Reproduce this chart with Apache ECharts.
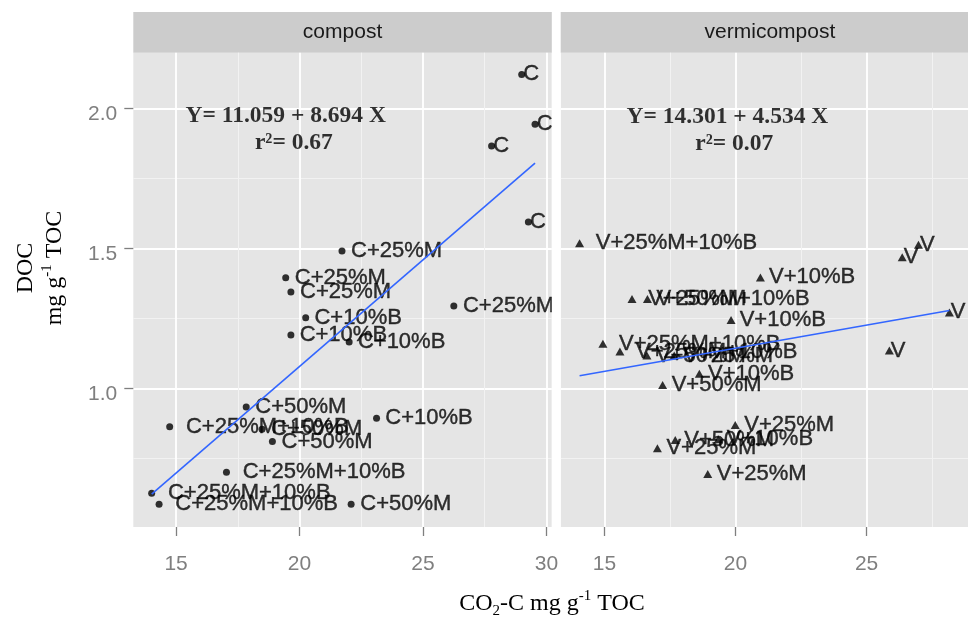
<!DOCTYPE html>
<html><head><meta charset="utf-8">
<script src="https://cdn.jsdelivr.net/npm/echarts@6/dist/echarts.min.js"></script>
<style>html,body{margin:0;padding:0;background:#fff}#c{width:968px;height:617px}</style>
</head><body><div id="c"></div>
<script>
// ---------- data ----------
const panelNames = ['compost', 'vermicompost'];

const compostX = [29.00, 29.54, 27.78, 29.27, 21.72, 19.44, 19.65, 26.25, 20.25, 19.65, 22.01, 23.12, 17.84, 18.48, 18.90, 22.09, 14.74, 17.04, 14.01, 14.31];
const compostY = [2.121, 1.943, 1.865, 1.594, 1.490, 1.395, 1.344, 1.294, 1.252, 1.190, 1.165, 0.893, 0.933, 0.854, 0.810, 0.586, 0.863, 0.700, 0.625, 0.586];
const compostLabels = ['C', 'C', 'C', 'C', 'C+25%M', 'C+25%M', 'C+25%M', 'C+25%M', 'C+10%B', 'C+10%B', 'C+10%B', 'C+10%B', 'C+50%M', 'C+50%M', 'C+50%M', 'C+50%M', 'C+25%M+10%B', 'C+25%M+10%B', 'C+25%M+10%B', 'C+25%M+10%B'];

const vermiX = [26.98, 26.36, 28.16, 25.87, 20.95, 19.83, 18.62, 19.34, 14.05, 16.05, 14.94, 15.59, 16.64, 17.22, 17.70, 16.62, 19.99, 17.02, 18.94, 17.66];
const vermiY = [1.513, 1.468, 1.271, 1.135, 1.396, 1.244, 1.052, 0.818, 1.518, 1.319, 1.159, 1.131, 1.319, 1.012, 0.815, 1.117, 0.869, 0.786, 0.694, 1.117];
const vermiLabels = ['V', 'V', 'V', 'V', 'V+10%B', 'V+10%B', 'V+10%B', 'V+10%B', 'V+25%M+10%B', 'V+25%M+10%B', 'V+25%M+10%B', 'V+25%M+10%B', 'V+50%M', 'V+50%M', 'V+50%M', 'V+50%M', 'V+25%M', 'V+25%M', 'V+25%M', 'V+25%M'];

const compostFitX = [14.01, 29.54];
const compostFitY = [0.622, 1.804];
const vermiFitX = [14.05, 28.16];
const vermiFitY = [1.045, 1.278];

const compostEqX = [19.44, 19.77];
const compostEqY = [1.974, 1.876];
const compostEqText = ['Y= 11.059 + 8.694 X', 'r\u00B2= 0.67'];
const vermiEqX = [19.69, 19.95];
const vermiEqY = [1.970, 1.872];
const vermiEqText = ['Y= 14.301 + 4.534 X', 'r\u00B2= 0.07'];

const compostTicks = [15, 20, 25, 30];
const vermiTicks = [15, 20, 25];
const compostMinor = [17.5, 22.5, 27.5];
const vermiMinor = [17.5, 22.5, 27.5];
const yTicks = [1.0, 1.5, 2.0];
const yMinor = [0.75, 1.25, 1.75];

// ---------- layout ----------
const G = [
  { left: 133.3, top: 52.7, width: 418.5, height: 474.3 },
  { left: 560.7, top: 52.7, width: 418.5, height: 474.3 }
];
const stripTop = 12;
const xRange = [[13.266, 30.219], [13.33, 28.87]];
const yRange = [0.5046, 2.1986];

const SANS = '"Liberation Sans", Arial, sans-serif';
const SERIF = '"Liberation Serif", "Times New Roman", serif';
const LABEL_SIZE = 22;

const ctx = document.createElement('canvas').getContext('2d');
ctx.font = LABEL_SIZE + 'px ' + SANS;
function dist(t, r) { return 0.1 * ctx.measureText(t).width - r; }

function pts(xs, ys, labels, r) {
  return xs.map((x, i) => ({ name: labels[i], value: [x, ys[i]], label: { distance: dist(labels[i], r) } }));
}
function pairs(xs, ys) { return xs.map((x, i) => [x, ys[i]]); }
function eqPts(xs, ys, t) { return xs.map((x, i) => ({ name: t[i], value: [x, ys[i]] })); }

const tickStyle = { color: '#7f7f7f', width: 1.3 };
const labelStyle = { color: '#7f7f7f', fontSize: 21, fontFamily: SANS };

const xAxes = [];
const yAxes = [];
// minor axes first (drawn beneath)
[0, 1].forEach(g => {
  xAxes.push({
    gridIndex: g, type: 'value', position: 'top', min: xRange[g][0], max: xRange[g][1],
    axisLine: { show: false }, axisLabel: { show: false },
    axisTick: { show: false, customValues: g === 0 ? compostMinor : vermiMinor },
    splitLine: { show: true, lineStyle: { color: '#F2F2F2', width: 1 } }
  });
  yAxes.push({
    gridIndex: g, type: 'value', position: 'right', min: yRange[0], max: yRange[1],
    axisLine: { show: false }, axisLabel: { show: false },
    axisTick: { show: false, customValues: yMinor },
    splitLine: { show: true, lineStyle: { color: '#F2F2F2', width: 1 } }
  });
});
[0, 1].forEach(g => {
  const t = g === 0 ? compostTicks : vermiTicks;
  xAxes.push({
    gridIndex: g, type: 'value', position: 'bottom', offset: 0, min: xRange[g][0], max: xRange[g][1],
    axisLine: { show: false, onZero: false },
    axisTick: { show: true, length: 9, lineStyle: tickStyle, customValues: t },
    axisLabel: Object.assign({ customValues: t, margin: 27, formatter: v => String(v) }, labelStyle),
    splitLine: { show: true, lineStyle: { color: '#FFFFFF', width: 1.8 } }
  });
  yAxes.push({
    gridIndex: g, type: 'value', position: 'left', offset: 0, min: yRange[0], max: yRange[1],
    axisLine: { show: false, onZero: false },
    axisTick: { show: g === 0, length: 9, lineStyle: tickStyle, customValues: yTicks },
    axisLabel: Object.assign({ show: g === 0, customValues: yTicks, margin: 16, verticalAlign: 'top',
      lineHeight: 12, formatter: v => Number(v).toFixed(1) }, labelStyle),
    splitLine: { show: true, lineStyle: { color: '#FFFFFF', width: 1.8 } }
  });
});

function scatterSeries(g, xs, ys, labels, symbol, size, r) {
  return {
    type: 'scatter', xAxisIndex: 2 + g, yAxisIndex: 2 + g, z: 3,
    symbol: symbol, symbolSize: size, itemStyle: { color: '#000000' },
    label: { show: true, position: 'right', formatter: '{b}', color: '#000000',
      fontSize: LABEL_SIZE, fontFamily: SANS, textBorderColor: '#000000', textBorderWidth: 0.4 },
    data: pts(xs, ys, labels, r)
  };
}
function fitSeries(g, xs, ys) {
  return {
    type: 'line', xAxisIndex: 2 + g, yAxisIndex: 2 + g, z: 4,
    showSymbol: false, symbol: 'none', lineStyle: { color: '#3366FF', width: 1.6 },
    data: pairs(xs, ys)
  };
}
function eqSeries(g, xs, ys, t) {
  return {
    type: 'scatter', xAxisIndex: 2 + g, yAxisIndex: 2 + g, z: 5,
    symbolSize: 1, itemStyle: { color: 'rgba(0,0,0,0)' },
    label: { show: true, position: 'inside', formatter: '{b}', color: '#000000',
      fontSize: 23.5, fontWeight: 'bold', fontFamily: SERIF },
    data: eqPts(xs, ys, t)
  };
}

const graphics = [];
G.forEach((g, i) => {
  graphics.push({
    type: 'rect', z: 0, silent: true,
    shape: { x: g.left, y: stripTop, width: g.width, height: g.top - stripTop },
    style: { fill: '#CCCCCC' }
  });
  graphics.push({
    type: 'text', z: 1, silent: true, x: g.left + g.width / 2, y: (stripTop + g.top) / 2,
    style: { text: panelNames[i], fill: '#1A1A1A', fontSize: 21, fontFamily: SANS,
      textAlign: 'center', align: 'center', textVerticalAlign: 'middle', verticalAlign: 'middle' }
  });
});
// gap between panels (clips labels like ggplot)
graphics.push({
  type: 'rect', z: 100, silent: true,
  shape: { x: G[0].left + G[0].width, y: G[0].top, width: G[1].left - G[0].left - G[0].width, height: G[0].height },
  style: { fill: '#FFFFFF' }
});
graphics.push({
  type: 'text', z: 1, silent: true, x: 552, y: 604,
  style: {
    text: 'CO{sub|2}-C mg g{sup|-1} TOC', fill: '#000', fontSize: 24, fontFamily: SERIF, lineHeight: 30,
    textAlign: 'center', align: 'center', textVerticalAlign: 'middle', verticalAlign: 'middle',
    rich: {
      sub: { fontSize: 15, fontFamily: SERIF, lineHeight: 14, verticalAlign: 'bottom', fill: '#000' },
      sup: { fontSize: 15, fontFamily: SERIF, lineHeight: 14, verticalAlign: 'top', fill: '#000' }
    }
  }
});
graphics.push({
  type: 'text', z: 1, silent: true, x: 40, y: 268, rotation: Math.PI / 2,
  style: {
    text: 'DOC\nmg g{sup|-1} TOC', fill: '#000', fontSize: 24, fontFamily: SERIF, lineHeight: 29,
    textAlign: 'center', align: 'center', textVerticalAlign: 'middle', verticalAlign: 'middle',
    rich: {
      sup: { fontSize: 15, fontFamily: SERIF, lineHeight: 14, verticalAlign: 'top', fill: '#000' }
    }
  }
});

const option = {
  animation: false,
  backgroundColor: '#FFFFFF',
  grid: G.map(g => Object.assign({ show: true, backgroundColor: '#E5E5E5', borderWidth: 0, containLabel: false }, g)),
  xAxis: xAxes,
  yAxis: yAxes,
  series: [
    scatterSeries(0, compostX, compostY, compostLabels, 'circle', 7, 3.5),
    scatterSeries(1, vermiX, vermiY, vermiLabels, 'triangle', [9, 8], 4.5),
    fitSeries(0, compostFitX, compostFitY),
    fitSeries(1, vermiFitX, vermiFitY),
    eqSeries(0, compostEqX, compostEqY, compostEqText),
    eqSeries(1, vermiEqX, vermiEqY, vermiEqText)
  ],
  graphic: graphics
};

const chart = echarts.init(document.getElementById('c'), null, { renderer: 'canvas' });
chart.setOption(option);
</script>
</body></html>
